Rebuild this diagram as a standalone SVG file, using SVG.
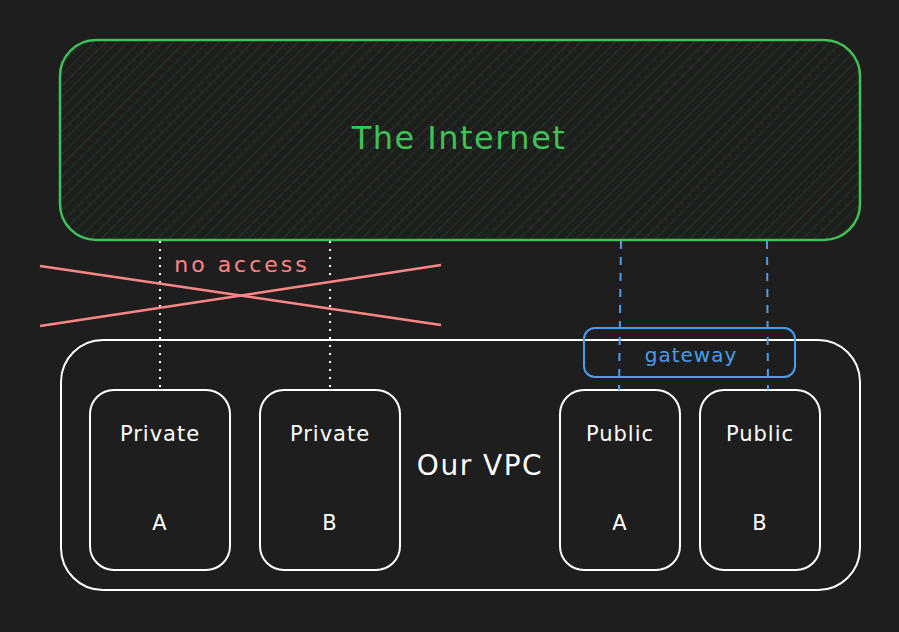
<svg xmlns="http://www.w3.org/2000/svg" width="899" height="632" viewBox="0 0 899 632">
<defs>
<pattern id="hatch" width="8" height="8" patternUnits="userSpaceOnUse" patternTransform="rotate(45)">
<rect width="8" height="8" fill="#1e1e1e"/>
<line x1="0" y1="0" x2="0" y2="8" stroke="#1f4a26" stroke-width="1.2"/>
</pattern>
<style>
text{font-family:"DejaVu Sans","Noto Sans","Liberation Sans",sans-serif;text-anchor:middle;dominant-baseline:central}
.w{fill:none;stroke:#ffffff;stroke-width:2}
.wt{fill:#ffffff;font-size:21px;letter-spacing:1px}
</style>
</defs>
<rect width="899" height="632" fill="#1e1e1e"/>
<g id="internet">
<rect x="60" y="40" width="800" height="200" rx="36" fill="url(#hatch)" stroke="#40c057" stroke-width="2.5"/>
<text x="459" y="138" fill="#40c057" font-size="32" letter-spacing="1.5">The Internet</text>
</g>
<g id="vpc">
<rect x="61" y="340" width="799" height="250" rx="42" class="w"/>
<text x="480" y="465" fill="#ffffff" font-size="28" letter-spacing="1.5">Our VPC</text>
</g>
<g id="private-a">
<rect x="90" y="390" width="140" height="180" rx="24" class="w"/>
<text x="160" y="434" class="wt">Private</text>
<text x="160" y="523" class="wt">A</text>
</g>
<g id="private-b">
<rect x="260" y="390" width="140" height="180" rx="24" class="w"/>
<text x="330" y="434" class="wt">Private</text>
<text x="330" y="523" class="wt">B</text>
</g>
<g id="public-a">
<rect x="560" y="390" width="120" height="180" rx="24" class="w"/>
<text x="620" y="434" class="wt">Public</text>
<text x="620" y="523" class="wt">A</text>
</g>
<g id="public-b">
<rect x="700" y="390" width="120" height="180" rx="24" class="w"/>
<text x="760" y="434" class="wt">Public</text>
<text x="760" y="523" class="wt">B</text>
</g>
<g id="gateway">
<rect x="584" y="328" width="211" height="49" rx="11" fill="none" stroke="#4a9eed" stroke-width="2"/>
<text x="691" y="355" fill="#4a9eed" font-size="20" letter-spacing="1">gateway</text>
</g>
<g id="connectors">
<line x1="160" y1="241" x2="160" y2="388" stroke="#ffffff" stroke-width="2" stroke-dasharray="2 6"/>
<line x1="330" y1="241" x2="330" y2="388" stroke="#ffffff" stroke-width="2" stroke-dasharray="2 6"/>
<line x1="621" y1="241" x2="619" y2="390" stroke="#4a9eed" stroke-width="2" stroke-dasharray="8 8"/>
<line x1="767" y1="241" x2="768" y2="390" stroke="#4a9eed" stroke-width="2" stroke-dasharray="8 8"/>
</g>
<g id="no-access">
<line x1="40" y1="266" x2="441" y2="325" stroke="#ff8787" stroke-width="2.5"/>
<line x1="40" y1="326" x2="441" y2="265" stroke="#ff8787" stroke-width="2.5"/>
<text x="242" y="264" fill="#ff8787" font-size="22" letter-spacing="3">no access</text>
</g>
</svg>
